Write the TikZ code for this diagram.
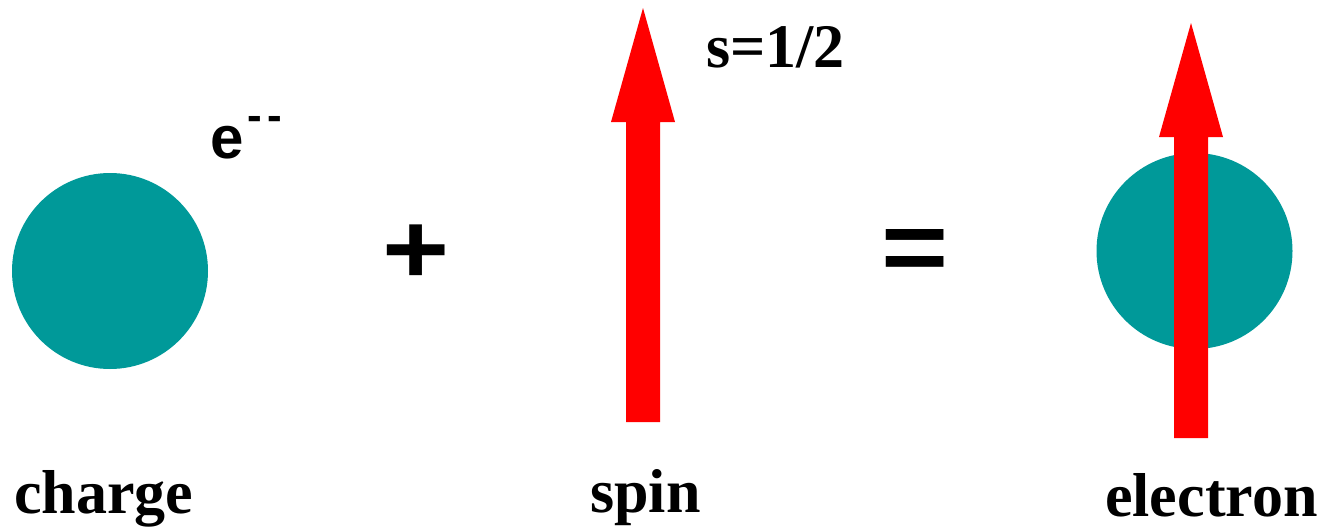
\documentclass[tikz,border=0pt]{standalone}
\usepackage{fontspec}
\newfontfamily\lblfont{Liberation Serif Bold}
\newfontfamily\symfont[FakeStretch=1.15]{Liberation Sans Bold}
\newfontfamily\efont{Liberation Sans Bold}
\definecolor{tealball}{HTML}{009999}
\definecolor{spinred}{HTML}{FF0000}
\tikzset{
  ball/.style={fill=tealball, draw=none},
  spinarrow/.style={fill=spinred, draw=none},
  lbl/.style={inner sep=0pt, anchor=base west, font=\lblfont\fontsize{62}{70}\selectfont},
  opsym/.style={inner sep=0pt, anchor=base, font=\symfont\fontsize{100}{110}\selectfont},
}
\begin{document}
\begin{tikzpicture}[x=1pt, y=-1pt]
\path[use as bounding box] (0,0) rectangle (1325,530);
% charge ball
\fill[ball] (110,271) circle[radius=98pt];
\node[inner sep=0pt, anchor=base west, font=\efont\fontsize{60}{62}\selectfont] (elabel) at (210,158)
  {e\kern4pt\raisebox{28pt}{\fontsize{44}{46}\selectfont -\kern5pt-}};
\node[lbl] (charge) at (14,513) {charge};
% plus
\node[opsym] (plus) at (416,283) {+};
% spin arrow
\fill[spinarrow] (626,422) -- (626,122) -- (611,122) -- (643,8) -- (675,122) -- (660,122) -- (660,422) -- cycle;
\node[lbl] (shalf) at (706,67) {s=1/2};
\node[lbl] (spin) at (590,512) {spin};
% equals
\node[opsym] (eq) at (915.5,281) {=};
% electron
\fill[ball] (1194.5,251) circle[radius=98pt];
\fill[spinarrow] (1174,438) -- (1174,137) -- (1159,137) -- (1191,23) -- (1223,137) -- (1208,137) -- (1208,438) -- cycle;
\node[lbl] (electron) at (1105,516) {electron};
\end{tikzpicture}
\end{document}
